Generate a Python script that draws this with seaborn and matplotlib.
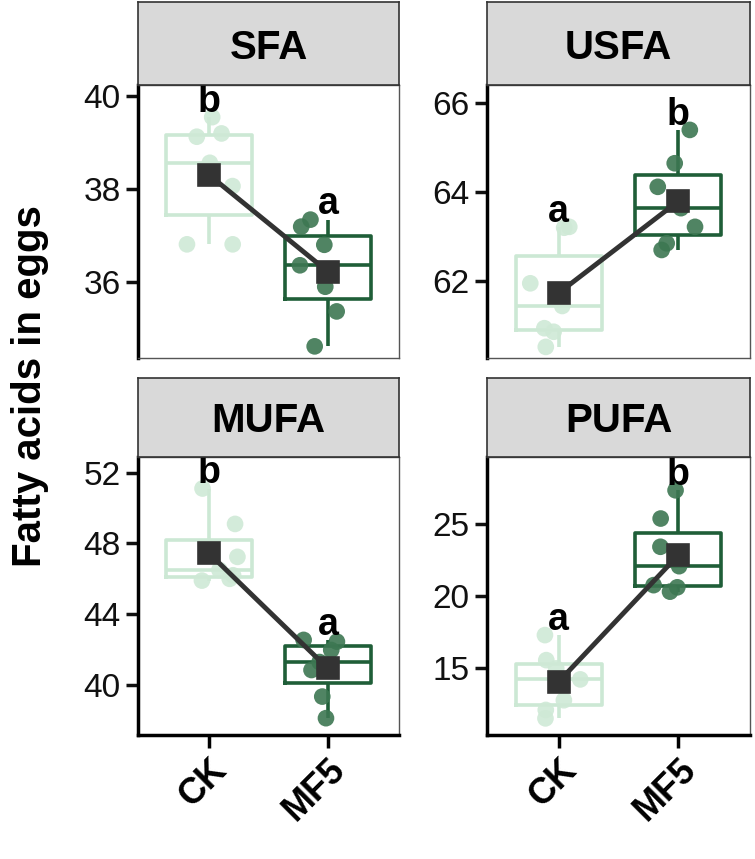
import numpy as np
import pandas as pd
import matplotlib.pyplot as plt
import seaborn as sns

np.random.seed(3)
plt.rcParams['font.family'] = 'Liberation Sans'

groups = ["CK", "MF5"]
panels = ["SFA", "USFA", "MUFA", "PUFA"]

sfa_ck = [39.54, 39.19, 39.12, 38.56, 38.06, 36.81, 36.81]
sfa_mf5 = [37.34, 37.19, 36.80, 36.36, 35.90, 35.37, 34.62]
usfa_ck = [63.22, 63.20, 61.95, 61.44, 60.94, 60.86, 60.52]
usfa_mf5 = [65.40, 64.65, 64.12, 63.64, 63.22, 62.85, 62.70]
mufa_ck = [51.10, 49.10, 47.24, 46.50, 46.20, 46.00, 45.90]
mufa_mf5 = [42.55, 42.45, 41.98, 41.30, 40.85, 39.35, 38.13]
pufa_ck = [17.30, 15.57, 15.00, 14.24, 12.80, 12.13, 11.55]
pufa_mf5 = [27.30, 25.35, 23.40, 22.06, 20.75, 20.60, 20.30]

letters = {"SFA": ["b", "a"], "USFA": ["a", "b"], "MUFA": ["b", "a"], "PUFA": ["a", "b"]}
data = {"SFA": (sfa_ck, sfa_mf5), "USFA": (usfa_ck, usfa_mf5),
        "MUFA": (mufa_ck, mufa_mf5), "PUFA": (pufa_ck, pufa_mf5)}

ylims = {"SFA": (34.37, 40.23), "USFA": (60.27, 66.41), "MUFA": (37.18, 52.88), "PUFA": (10.4, 29.6)}
yticks = {"SFA": [36, 38, 40], "USFA": [62, 64, 66], "MUFA": [40, 44, 48, 52], "PUFA": [15, 20, 25]}

box_pal = {"CK": "#cce8d4", "MF5": "#1f5e38"}
pt_pal = {"CK": "#cfe9d6", "MF5": "#3d7752"}

W, H = 755, 859
fig = plt.figure(figsize=(W / 100, H / 100), dpi=100)
rects = {"SFA": (138, 85, 399, 358), "USFA": (487, 85, 750, 358),
         "MUFA": (138, 457, 399, 735), "PUFA": (487, 457, 750, 735)}
strip_top = {"SFA": 0, "USFA": 0, "MUFA": 376, "PUFA": 376}

for name in panels:
    x0, y0, x1, y1 = rects[name]
    ax = fig.add_axes([x0 / W, 1 - y1 / H, (x1 - x0) / W, (y1 - y0) / H])
    sax = fig.add_axes([x0 / W, 1 - y0 / H, (x1 - x0) / W, (y0 - strip_top[name] - 2) / H])
    sax.set_facecolor("#d9d9d9")
    sax.set_xticks([]); sax.set_yticks([])
    for s in sax.spines.values():
        s.set_color("#333333"); s.set_linewidth(1.2)
    sax.text(0.5, 0.45, name, ha="center", va="center", fontsize=29, fontweight="bold",
             transform=sax.transAxes)

    ck, mf = data[name]
    df = pd.DataFrame({"group": ["CK"] * len(ck) + ["MF5"] * len(mf), "value": ck + mf})

    sns.boxplot(data=df, x="group", y="value", hue="group", palette=box_pal, fill=False,
                showfliers=False, width=0.72, linewidth=2.6, ax=ax, legend=False,
                capprops={"linewidth": 0})
    sns.stripplot(data=df, x="group", y="value", hue="group", palette=pt_pal, jitter=0.25,
                  size=12, alpha=0.9, ax=ax, legend=False, zorder=3)
    sns.pointplot(data=df, x="group", y="value", estimator="mean", errorbar=None,
                  color="#333333", markers="s", markersize=15, linewidth=3.5, ax=ax, zorder=5)

    lo, hi = ylims[name]
    ax.set_ylim(lo, hi)
    ax.set_xlim(-0.6, 1.6)
    ax.set_yticks(yticks[name])
    ax.tick_params(axis="y", labelsize=24, length=9, width=2.5, colors="#111111")
    for i, g in enumerate(groups):
        vals = data[name][i]
        ax.annotate(letters[name][i], (i, max(vals)), xytext=(0, -2), textcoords="offset points",
                    ha="center", va="bottom", fontsize=27, fontweight="bold", zorder=6)
    for s in ["top", "right"]:
        ax.spines[s].set_color("#555555"); ax.spines[s].set_linewidth(1.0)
    ax.spines["left"].set_color("black"); ax.spines["left"].set_linewidth(2.5)
    ax.set_xlabel(""); ax.set_ylabel("")
    if name in ("MUFA", "PUFA"):
        ax.spines["bottom"].set_color("black"); ax.spines["bottom"].set_linewidth(2.5)
        ax.tick_params(axis="x", length=9, width=2.5, labelsize=26)
        ax.set_xticks([0, 1])
        ax.set_xticklabels(groups, rotation=45, ha="right", rotation_mode="anchor", fontweight="bold")
    else:
        ax.spines["bottom"].set_color("#555555"); ax.spines["bottom"].set_linewidth(1.0)
        ax.set_xticks([])

fig.text(0.04, 0.55, "Fatty acids in eggs", rotation=90, ha="center", va="center",
         fontsize=29, fontweight="bold")

fig.savefig("out.png", dpi=100)
